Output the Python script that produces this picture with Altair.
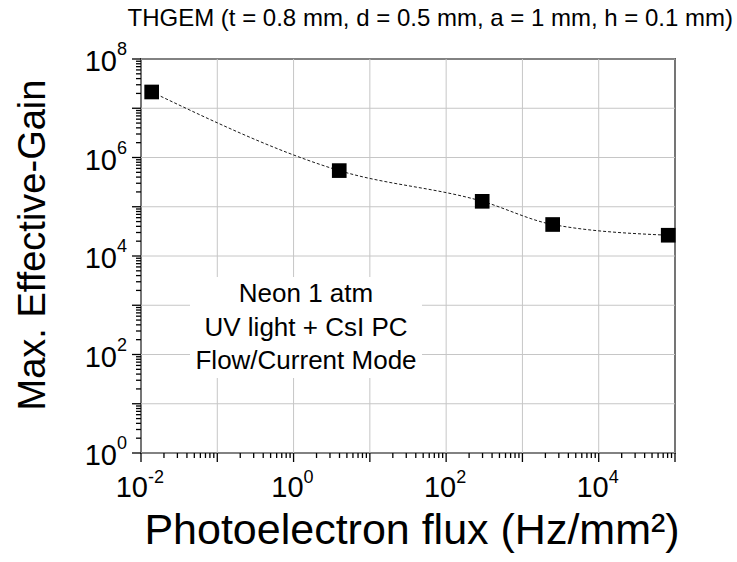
import altair as alt
import pandas as pd

# Maximum effective gain measured at each photoelectron flux
flux = [0.0138, 3.97, 297, 2490, 81500]
gain = [2.14e7, 5.42e5, 1.29e5, 4.36e4, 2.64e4]

# Decades that carry a printed "10^n" label
x_label_exp = [-2, 0, 2, 4]
y_label_exp = [0, 2, 4, 6, 8]

# Axis ranges, in decades
x_decades = (-2, 5)
y_decades = (0, 8)

title_text = "THGEM (t = 0.8 mm, d = 0.5 mm, a = 1 mm, h = 0.1 mm)"
x_title = "Photoelectron flux (Hz/mm²)"
y_title = "Max. Effective-Gain"
note_lines = ["Neon 1 atm", "UV light + CsI PC", "Flow/Current Mode"]

W, H = 534, 394
FONT = "Liberation Sans"
BASE_SIZE = 29
EXP_SIZE = 18
GRID = "#c6c6c6"

# Note placement (pixels inside the plot): centre x and first-line y
NOTE_X, NOTE_Y, NOTE_LH = 165, 235, 33.5


def decades(lo, hi):
    return [10.0 ** d for d in range(lo, hi + 1)]


def minors(lo, hi):
    return [k * 10.0 ** d for d in range(lo, hi) for k in range(2, 10)]


xs = alt.Scale(type="log", domain=[10.0 ** x_decades[0], 10.0 ** x_decades[1]])
ys = alt.Scale(type="log", domain=[10.0 ** y_decades[0], 10.0 ** y_decades[1]])


def xq(field):
    return alt.X(field, type="quantitative", scale=xs, axis=None)


def yq(field):
    return alt.Y(field, type="quantitative", scale=ys, axis=None)


x_major_df = pd.DataFrame({"v": decades(*x_decades)})
y_major_df = pd.DataFrame({"v": decades(*y_decades)})
x_minor_df = pd.DataFrame({"v": minors(*x_decades)})
y_minor_df = pd.DataFrame({"v": minors(*y_decades)})

# Decade grid
x_grid = alt.Chart(x_major_df).mark_rule(color=GRID, strokeWidth=1).encode(
    x=xq("v"), y=alt.value(0), y2=alt.value(H))
y_grid = alt.Chart(y_major_df).mark_rule(color=GRID, strokeWidth=1).encode(
    y=yq("v"), x=alt.value(0), x2=alt.value(W))


# Outward ticks: long at decades, short at 2..9
def x_ticks(df, length):
    return alt.Chart(df).mark_rule(color="black", strokeWidth=1.3).encode(
        x=xq("v"), y=alt.value(H), y2=alt.value(H + length))


def y_ticks(df, length):
    return alt.Chart(df).mark_rule(color="black", strokeWidth=1.3).encode(
        y=yq("v"), x=alt.value(0), x2=alt.value(-length))


pts = pd.DataFrame({"flux": flux, "gain": gain})

curve = alt.Chart(pts).mark_line(
    interpolate="monotone", color="#1a1a1a", strokeWidth=1, strokeDash=[3, 2]
).encode(x=xq("flux"), y=yq("gain"))

squares = alt.Chart(pts).mark_square(size=215, color="black", opacity=1).encode(
    x=xq("flux"), y=yq("gain"))

# Tick labels drawn as "10" plus a raised exponent
xl = pd.DataFrame({"v": [10.0 ** e for e in x_label_exp],
                   "exp": [str(e) for e in x_label_exp]})
yl = pd.DataFrame({"v": [10.0 ** e for e in y_label_exp],
                   "exp": [str(e) for e in y_label_exp]})


def x_labels(test, shift):
    base = alt.Chart(xl).transform_filter(test).mark_text(
        text="10", align="right", baseline="alphabetic",
        fontSize=BASE_SIZE, dx=shift, color="black"
    ).encode(x=xq("v"), y=alt.value(H + 44))
    sup = alt.Chart(xl).transform_filter(test).mark_text(
        align="left", baseline="alphabetic",
        fontSize=EXP_SIZE, dx=shift, color="black"
    ).encode(x=xq("v"), y=alt.value(H + 30), text="exp:N")
    return [base, sup]


y_base = alt.Chart(yl).mark_text(
    text="10", align="right", baseline="middle",
    fontSize=BASE_SIZE, dy=3, color="black"
).encode(x=alt.value(-24), y=yq("v"))
y_sup = alt.Chart(yl).mark_text(
    align="left", baseline="bottom", fontSize=EXP_SIZE, color="black"
).encode(x=alt.value(-24), y=yq("v"), text="exp:N")

one = pd.DataFrame({"k": [0]})

title = alt.Chart(one).mark_text(
    text=title_text, align="right", baseline="alphabetic", fontSize=24, color="black"
).encode(x=alt.value(592), y=alt.value(-33))

xtitle = alt.Chart(one).mark_text(
    text=x_title, align="center", baseline="alphabetic", fontSize=43, color="black"
).encode(x=alt.value(271), y=alt.value(H + 91))

ytitle = alt.Chart(one).mark_text(
    text=y_title, align="center", baseline="middle", angle=270,
    fontSize=38, color="black"
).encode(x=alt.value(-107), y=alt.value(186))

# Three-line note on a white background patch that hides the grid
note_bg = alt.Chart(one).mark_rect(color="white", opacity=1).encode(
    x=alt.value(NOTE_X - 116), x2=alt.value(NOTE_X + 116),
    y=alt.value(NOTE_Y - 17), y2=alt.value(NOTE_Y + 2 * NOTE_LH + 17),
)
note = alt.Chart(one).mark_text(
    text="\n".join(note_lines), lineBreak="\n", lineHeight=NOTE_LH,
    align="center", baseline="middle", fontSize=26, color="black"
).encode(x=alt.value(NOTE_X), y=alt.value(NOTE_Y))

chart = alt.layer(
    x_grid, y_grid, note_bg, note,
    x_ticks(x_major_df, 9), x_ticks(x_minor_df, 5),
    y_ticks(y_major_df, 9), y_ticks(y_minor_df, 5),
    curve, squares,
    *x_labels("datum.v < 1", 7), *x_labels("datum.v >= 1", 10),
    y_base, y_sup, title, xtitle, ytitle,
).properties(
    width=W, height=H,
    padding={"left": 141, "top": 59, "right": 62, "bottom": 109},
    autosize=alt.AutoSizeParams(type="none"),
    background="white",
).configure(font=FONT).configure_view(
    stroke="black", strokeWidth=1.7
).configure_text(font=FONT)

chart.save("out.html", embed_options={"renderer": "svg", "actions": False})
